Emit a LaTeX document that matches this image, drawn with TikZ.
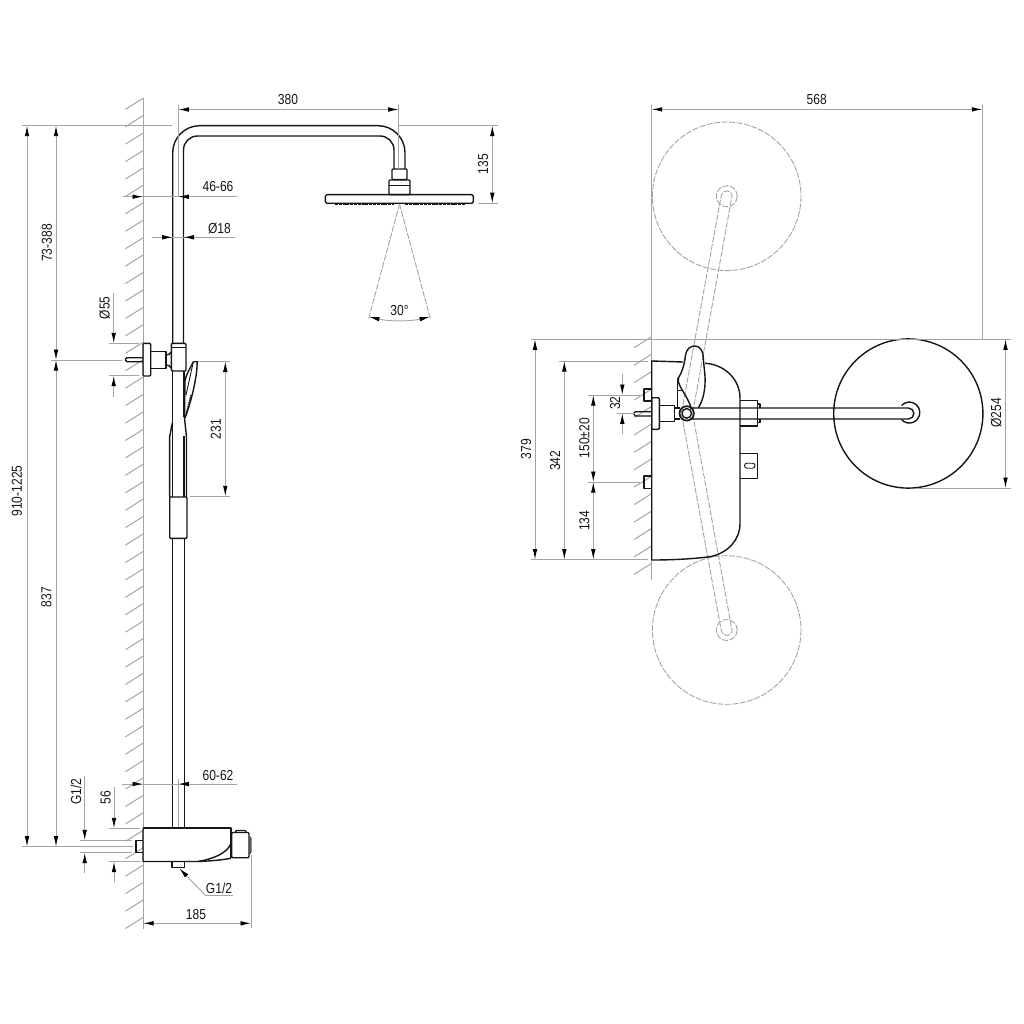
\documentclass[tikz,border=0pt]{standalone}
\usepackage{fontspec}
\setmainfont{Liberation Sans}
\usepackage{tikz}
\usetikzlibrary{arrows.meta}
\definecolor{dimgray}{HTML}{A4A4A4}
\definecolor{inkdark}{HTML}{161616}
\tikzset{
	part/.style={draw=inkdark, line width=1.4pt, line join=round},
	thinpart/.style={draw=inkdark, line width=.9pt},
	wall/.style={draw=dimgray, line width=1pt},
	dimline/.style={draw=dimgray, line width=.9pt},
	ghost/.style={draw=dimgray, line width=.9pt, dash pattern=on 6pt off 1.5pt},
	dimtip/.style={-{Latex[color=black,length=10.5pt,width=4.6pt]}},
	dimboth/.style={{Latex[color=black,length=10.5pt,width=4.6pt]}-{Latex[color=black,length=10.5pt,width=4.6pt]}},
	dimtext/.style={font=\fontsize{14.5}{15}\selectfont, text=inkdark, inner sep=0pt, xscale=.83},
	dimtextv/.style={rotate=90, dimtext}
}
\begin{document}
\begin{tikzpicture}[x=1pt,y=-1pt]
	\useasboundingbox (0,0) rectangle (1024,1024);
	% walls
	\draw[wall] (143,98) -- (143,929);
	\foreach \k in {0,...,47}
		\draw[wall] (143,98.3+17.43*\k) -- ++(-17.5,11);
	\draw[wall] (651.7,105) -- (651.7,580);
	\foreach \k in {0,...,13}
		\draw[wall] (651.7,336.7+17.43*\k) -- ++(-17.5,11);

	% side view: rail and arm
	\draw[part, rounded corners=27pt] (172.7,343.3) -- (172.7,125.7) -- (405,125.7) -- (405,169);
	\draw[part, rounded corners=14pt] (183.5,343.3) -- (183.5,136) -- (394,136) -- (394,169);
	\draw[part, rounded corners=1pt] (392,169) rectangle (407,179.5);
	\draw[part, rounded corners=1pt] (389,180) rectangle (410,194.7);
	\draw[thinpart] (389,185) -- (410,185);
	\draw[part, rounded corners=1.5pt] (325.3,194.7) rectangle (473.3,203.3);
	\draw[inkdark, line width=1.6pt, dash pattern=on 3pt off .8pt] (335,204.5) -- (394,204.5) (405,204.5) -- (465,204.5);
	% spray cone
	\draw[ghost] (399.5,204) -- (368.3,320);
	\draw[ghost] (399.5,204) -- (430.7,320);
	\draw[dimline, dimboth] (369,316.8) .. controls (389,321.5) and (410,321.5) .. (430,316.8);
	\node (sprayangle) [dimtext] at (399.5,311) {30°};

	% side view: wall arm and slider
	\draw[part, rounded corners=1pt] (143,343.4) rectangle (150.7,376);
	\draw[part] (150.7,351.7) rectangle (166,368.3);
	\draw[part] (166,355) .. controls (168,355) and (171,354) .. (171.3,352);
	\draw[part] (166,365) .. controls (168,365) and (171,366) .. (171.3,368);
	\draw[part, rounded corners=1pt] (171.3,343.3) rectangle (186,371);
	\draw[thinpart] (171.3,347.7) -- (186,347.7);
	\draw[part, rounded corners=1.5pt] (143,357.7) -- (125.5,357.7) -- (125.5,361.7) -- (143,361.7);
	\draw[part] (172.5,371) -- (172.5,497);
	\draw[part] (184,371) -- (184,417);
	\draw[part] (184,436) -- (184,497);
	% hand shower
	\draw[part] (193.3,361.7) -- (197.3,361.7) -- (196.7,371) .. controls (195,385) and (191,402) .. (185,418);
	\draw[part] (193.3,361.7) .. controls (190,369) and (186,374) .. (185,381) -- (184.5,417);
	\draw[thinpart] (193.3,362) -- (186,395);
	\draw[inkdark, line width=1.4pt, dash pattern=on 1.5pt off .8pt] (191,395) -- (186,415);
	\draw[part] (172.3,423) -- (169.6,437) -- (169.7,497);
	\draw[part] (184.4,417) -- (186.5,437) -- (186.5,497);
	\draw[part, rounded corners=1pt] (169.7,497) rectangle (187,538.3);
	\draw[part] (172.5,538.3) -- (172.5,828);
	\draw[part] (184.5,538.3) -- (184.5,828);
	\draw[dimline] (178.3,779) -- (178.3,828);

	% side view: mixer
	\draw[part, line width=1.7pt] (143,828.3) -- (231,828.3) -- (231,858.3);
	\draw[part] (143,828.3) -- (143,861.5) -- (198,861.5) .. controls (210,861) and (222,860) .. (231,858.3);
	\draw[part] (198,861.5) .. controls (213,859) and (228,853) .. (231,843);
	\draw[part, rounded corners=1pt] (231.7,832.5) rectangle (249,857.7);
	\draw[part, rounded corners=1pt] (235.7,832.5) -- (235.7,830.5) -- (246,830.5) -- (246,832.5);
	\fill[gray!70!black] (249,835.5) -- (251.5,837.5) -- (251.5,853) -- (249,855) -- cycle;
	\draw[part] (143,840.7) -- (136,840.7) -- (136,852.7) -- (143,852.7);
	\draw[part] (172,861.5) -- (172,867.3) -- (184.3,867.3) -- (184.3,861.5);

	% side view: dimensions
	\draw[dimline] (178.3,105) -- (178.3,197);
	\draw[dimline] (398.7,105) -- (398.7,169);
	\draw[dimline, dimboth] (178.3,109.5) -- (398.7,109.5);
	\node (armlength) [dimtext] at (288,100) {380};
	\draw[dimline] (22,125.7) -- (172,125.7);
	\draw[dimline] (399,125.7) -- (498,125.7);
	\draw[dimline] (478,203.2) -- (498,203.2);
	\draw[dimline, dimboth] (492.3,125.7) -- (492.3,203.2);
	\node (armdrop) [dimtextv] at (483,164) {135};
	\draw[dimline] (123,196.7) -- (237,196.7);
	\draw[dimline, dimtip] (125,196.7) -- (143,196.7);
	\draw[dimline, dimtip] (200,196.7) -- (178.3,196.7);
	\node (railgap) [dimtext] at (218,187) {46-66};
	\draw[dimline] (152,237.3) -- (235,237.3);
	\draw[dimline, dimtip] (155,237.3) -- (172.7,237.3);
	\draw[dimline, dimtip] (200,237.3) -- (183.5,237.3);
	\node (raildia) [dimtext] at (219.5,228) {Ø18};
	\draw[dimline, dimboth] (27,125.7) -- (27,846.7);
	\node (totalheight) [dimtextv] at (17,491) {910-1225};
	\draw[dimline, dimboth] (56,125.7) -- (56,360);
	\node (upperrange) [dimtextv] at (47,243) {73-388};
	\draw[dimline, dimboth] (56,360) -- (56,846.7);
	\node (lowerheight) [dimtextv] at (46.5,597) {837};
	\draw[dimline] (51,360) -- (122,360);
	\draw[dimline] (22,846.7) -- (133,846.7);
	\draw[dimline] (109,343.3) -- (139,343.3);
	\draw[dimline] (109,375.7) -- (139,375.7);
	\draw[dimline, dimtip] (113.7,292.7) -- (113.7,343.3);
	\draw[dimline, dimtip] (113.7,396.7) -- (113.7,375.7);
	\node (flangedia) [dimtextv] at (104.5,307.7) {Ø55};
	\draw[dimline] (198,361.5) -- (230,361.5);
	\draw[dimline] (190,496.3) -- (230,496.3);
	\draw[dimline, dimboth] (225.3,361.5) -- (225.3,496.3);
	\node (handlength) [dimtextv] at (216,429) {231};
	\draw[dimline] (121.7,784) -- (236.7,784);
	\draw[dimline, dimtip] (125,784) -- (143,784);
	\draw[dimline, dimtip] (200,784) -- (178.3,784);
	\node (railoffset) [dimtext] at (218,775) {60-62};
	\draw[dimline] (80,840.3) -- (132,840.3);
	\draw[dimline] (80,852.7) -- (132,852.7);
	\draw[dimline, dimtip] (84.7,775.7) -- (84.7,840.3);
	\draw[dimline, dimtip] (84.7,873.3) -- (84.7,852.7);
	\node (inletthread) [dimtextv] at (76,791.7) {G1/2};
	\draw[dimline] (109,828.3) -- (140,828.3);
	\draw[dimline] (109,861.7) -- (140,861.7);
	\draw[dimline, dimtip] (114,787.3) -- (114,828.3);
	\draw[dimline, dimtip] (114,882.3) -- (114,861.7);
	\node (bodyheight) [dimtextv] at (105.7,797.7) {56};
	\coordinate (leaderend) at (232.7,895);
	\draw[dimline] (leaderend) -- (205,895);
	\draw[dimline, dimtip] (205,895) -- (179.3,868.3);
	\node (outletthread) [dimtext] at (219,888) {G1/2};
	\draw[dimline] (251,855) -- (251,928);
	\draw[dimline, dimboth] (143,923.3) -- (251,923.3);
	\node (bodydepth) [dimtext] at (196,914) {185};

	% top view: ghost positions
	\draw[ghost] (726.7,196.3) circle[radius=74.3];
	\draw[ghost] (726.7,196.3) circle[radius=10.5];
	\draw[ghost] (726.7,630) circle[radius=74.3];
	\draw[ghost] (726.7,630) circle[radius=10.5];
	\draw[ghost] (681.6,412.3) -- (721.3,195.3) arc[start angle=190,end angle=350,radius=5.5] -- (692.4,414.3);
	\draw[ghost] (681.6,414.3) -- (721.3,631) arc[start angle=170,end angle=10,radius=5.5] -- (692.4,412.3);

	% top view: body
	\draw[part] (683.3,362) -- (651.7,361) -- (651.7,560) .. controls (672,560) and (692,559) .. (710,556.7) .. controls (728,553) and (740,540) .. (740,523.3) -- (740,398.3) .. controls (740,378) and (723,364) .. (705,363.3);
	\draw[part] (695,346) .. controls (700,346) and (703.3,351) .. (703.3,358.3) .. controls (704,368) and (705.5,376) .. (705,384) .. controls (704.5,394) and (702,402) .. (698.3,408);
	\draw[part] (695,346) .. controls (690,346) and (686.7,349) .. (685.5,355) .. controls (684.5,365) and (682,372) .. (678.3,378.3) .. controls (677.5,383) and (681,388) .. (684,393) .. controls (687,398) and (689,402) .. (691,407);
	\draw[part] (677.7,378) -- (677.7,408);
	\draw[thinpart] (677.7,390) -- (683,390);
	\draw[part] (651.7,389) -- (644,389) -- (644,401) -- (651.7,401);
	\draw[part] (651.7,476) -- (644,476) -- (644,488.3) -- (651.7,488.3);
	\draw[part, rounded corners=1pt] (651.7,397.7) rectangle (659.3,429.3);
	\draw[part] (659.3,405.7) rectangle (674.3,421.7);
	\draw[part, rounded corners=1.5pt] (651.7,411.7) -- (634,411.7) -- (634,416) -- (651.7,416);
	\draw[part] (674.3,408) -- (680,408);
	\draw[part] (674.3,419) -- (680,419);
	\draw[part] (740,400.7) -- (757.3,400.7) -- (757.3,426) -- (740,426);
	\draw[part] (757.3,404) -- (760,404) -- (760,408);
	\draw[part] (757.3,422.7) -- (760,422.7) -- (760,419);
	\draw[part] (740,453.3) -- (757.7,453.3) -- (757.7,478.3) -- (740,478.3);
	\draw[thinpart, rounded corners=2.4pt] (744.5,463.2) rectangle (755,468.2);
	% top view: arm and head
	\draw[part, line width=1.7pt] (686.7,413.4) circle[radius=7.2];
	\draw[part] (686.7,413.4) circle[radius=4.8];
	\draw[part] (690,408) -- (908.4,408) arc[start angle=-90,end angle=90,radius=5.5] -- (690,419);
	\draw[part] (901.5,405.5) arc[start angle=-138,end angle=138,radius=10.5];
	\draw[part] (908.3,413.5) circle[radius=74.6];

	% top view: dimensions
	\draw[dimline] (982.3,105) -- (982.3,340);
	\draw[dimline, dimboth] (651.7,109.4) -- (982.3,109.4);
	\node (swingwidth) [dimtext] at (816.7,100) {568};
	\draw[dimline] (531,339.3) -- (1011,339.3);
	\draw[dimline] (531,559.5) -- (648,559.5);
	\draw[dimline, dimboth] (535,339.3) -- (535,559.5);
	\node (swingdepth) [dimtextv] at (526,449) {379};
	\draw[dimline] (559,361) -- (648,361);
	\draw[dimline, dimboth] (564.3,361) -- (564.3,559.5);
	\node (bodywidth) [dimtextv] at (555,460.7) {342};
	\draw[dimline] (588,395) -- (640,395);
	\draw[dimline] (588,482) -- (640,482);
	\draw[dimline, dimboth] (593.3,395) -- (593.3,482);
	\node (inletspacing) [dimtextv] at (584.3,438.3) {150±20};
	\draw[dimline, dimboth] (593.3,482) -- (593.3,559.5);
	\node (inletedge) [dimtextv] at (584.3,520.7) {134};
	\draw[dimline] (617,413.3) -- (635,413.3);
	\draw[dimline, dimtip] (622.3,374.3) -- (622.3,395);
	\draw[dimline, dimtip] (622.3,434) -- (622.3,413.3);
	\node (armoffset) [dimtextv] at (615,403.3) {32};
	\draw[dimline] (915,488) -- (1011,488);
	\draw[dimline, dimboth] (1005.5,339.3) -- (1005.5,488);
	\node (headdia) [dimtextv] at (996,413) {Ø254};
\end{tikzpicture}
\end{document}
